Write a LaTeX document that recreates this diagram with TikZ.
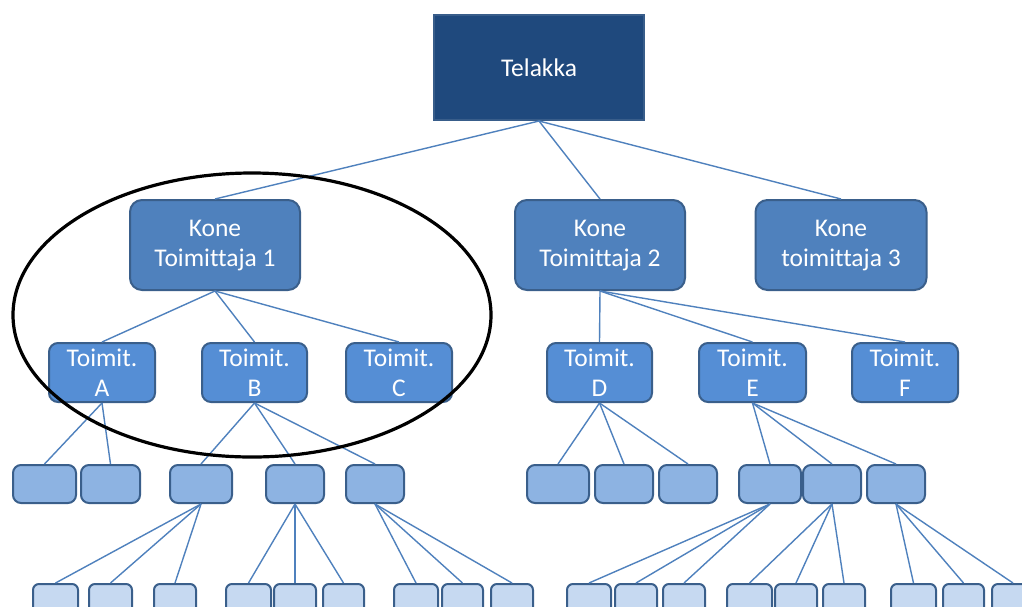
\documentclass[tikz,border=0pt]{standalone}
\usepackage{fontspec}
\setmainfont{Carlito}[Ligatures=NoCommon]
\definecolor{navy}{HTML}{1F497D}
\definecolor{navyb}{HTML}{385D8A}
\definecolor{kfill}{HTML}{4F81BD}
\definecolor{tfill}{HTML}{558ED5}
\definecolor{rfill}{HTML}{8DB3E2}
\definecolor{qfill}{HTML}{C6D9F1}
\definecolor{bord}{HTML}{3A5F8B}
\definecolor{lnk}{HTML}{4F81BD}
\tikzset{
  box/.style={draw=bord, line width=2pt, inner sep=0pt, align=center, text=white,
    font=\fontsize{25.5}{30}\selectfont},
  topbox/.style={box, fill=navy, draw=navyb, minimum width=210pt, minimum height=105pt},
  konebox/.style={box, fill=kfill, rounded corners=12pt, minimum width=170pt, minimum height=90pt},
  toimbox/.style={box, fill=tfill, rounded corners=9pt, minimum height=59pt},
  rowthree/.style={box, fill=rfill, rounded corners=8pt, minimum height=38pt},
  rowfour/.style={box, fill=qfill, rounded corners=6pt, minimum height=36pt},
  link/.style={draw=lnk, line width=1.4pt},
  ring/.style={draw=black, line width=3.2pt}
}
\begin{document}
\begin{tikzpicture}[x=1pt,y=-1pt]
\clip (0,0) rectangle (1022,606);
\fill[white] (0,0) rectangle (1022,606);
% level 0
\node[topbox] (tel) at (539,67.5) {Telakka};
% level 1
\node[konebox] (k1) at (215,245) {\raisebox{-2pt}{\parbox{170pt}{\centering Kone\\Toimittaja 1}}};
\node[konebox] (k2) at (600,245) {\raisebox{-2pt}{\parbox{170pt}{\centering Kone\\Toimittaja 2}}};
\node[konebox, minimum width=171pt] (k3) at (841,245) {\raisebox{-2pt}{\parbox{170pt}{\centering Kone\\toimittaja 3}}};
% level 2
\node[toimbox, minimum width=106pt] (ta) at (102,372.5) {Toimit.\\A};
\node[toimbox, minimum width=105pt] (tb) at (254.5,372.5) {Toimit.\\B};
\node[toimbox, minimum width=106pt] (tc) at (399,372.5) {Toimit.\\C};
\node[toimbox, minimum width=105pt] (td) at (599.5,372.5) {Toimit.\\D};
\node[toimbox, minimum width=107pt] (te) at (752.5,372.5) {Toimit.\\E};
\node[toimbox, minimum width=106pt] (tf) at (905,372.5) {Toimit.\\F};
% level 3
\node[rowthree, minimum width=63pt] (ra) at (44.5,484) {};
\node[rowthree, minimum width=59pt] (rb) at (110.5,484) {};
\node[rowthree, minimum width=62pt] (rc) at (201,484) {};
\node[rowthree, minimum width=58pt] (rd) at (295,484) {};
\node[rowthree, minimum width=58pt] (re) at (375,484) {};
\node[rowthree, minimum width=62pt] (rf) at (558,484) {};
\node[rowthree, minimum width=58pt] (rg) at (624,484) {};
\node[rowthree, minimum width=58pt] (rh) at (688,484) {};
\node[rowthree, minimum width=62pt] (ri) at (770,484) {};
\node[rowthree, minimum width=58pt] (rj) at (832,484) {};
\node[rowthree, minimum width=58pt] (rk) at (896,484) {};
% level 4
\node[rowfour, minimum width=45pt] (q1) at (55.5,602) {};
\node[rowfour, minimum width=43pt] (q2) at (110.5,602) {};
\node[rowfour, minimum width=42pt] (q3) at (175,602) {};
\node[rowfour, minimum width=45pt] (q4) at (248.5,602) {};
\node[rowfour, minimum width=42pt] (q5) at (295,602) {};
\node[rowfour, minimum width=41pt] (q6) at (343.5,602) {};
\node[rowfour, minimum width=44pt] (q7) at (416,602) {};
\node[rowfour, minimum width=41pt] (q8) at (462.5,602) {};
\node[rowfour, minimum width=42pt] (q9) at (512,602) {};
\node[rowfour, minimum width=44pt] (q10) at (589,602) {};
\node[rowfour, minimum width=42pt] (q11) at (636,602) {};
\node[rowfour, minimum width=42pt] (q12) at (684,602) {};
\node[rowfour, minimum width=45pt] (q13) at (749.5,602) {};
\node[rowfour, minimum width=42pt] (q14) at (796,602) {};
\node[rowfour, minimum width=42pt] (q15) at (844,602) {};
\node[rowfour, minimum width=45pt] (q16) at (913.5,602) {};
\node[rowfour, minimum width=41pt] (q17) at (963.5,602) {};
\node[rowfour, minimum width=42pt] (q18) at (1013,602) {};
% connectors
\foreach \c in {k1,k2,k3} \draw[link] (tel.south) -- (\c.north);
\foreach \c in {ta,tb,tc} \draw[link] (k1.south) -- (\c.north);
\foreach \c in {td,te,tf} \draw[link] (k2.south) -- (\c.north);
\foreach \c in {ra,rb} \draw[link] (ta.south) -- (\c.north);
\foreach \c in {rc,rd,re} \draw[link] (tb.south) -- (\c.north);
\foreach \c in {rf,rg,rh} \draw[link] (td.south) -- (\c.north);
\foreach \c in {ri,rj,rk} \draw[link] (te.south) -- (\c.north);
\foreach \c in {q1,q2,q3} \draw[link] (rc.south) -- (\c.north);
\foreach \c in {q4,q5,q6} \draw[link] (rd.south) -- (\c.north);
\foreach \c in {q7,q8,q9} \draw[link] (re.south) -- (\c.north);
\foreach \c in {q10,q11,q12} \draw[link] (ri.south) -- (\c.north);
\foreach \c in {q13,q14,q15} \draw[link] (rj.south) -- (\c.north);
\foreach \c in {q16,q17,q18} \draw[link] (rk.south) -- (\c.north);
% ellipse
\draw[ring] (252,315) ellipse [x radius=239, y radius=142];
\end{tikzpicture}
\end{document}
